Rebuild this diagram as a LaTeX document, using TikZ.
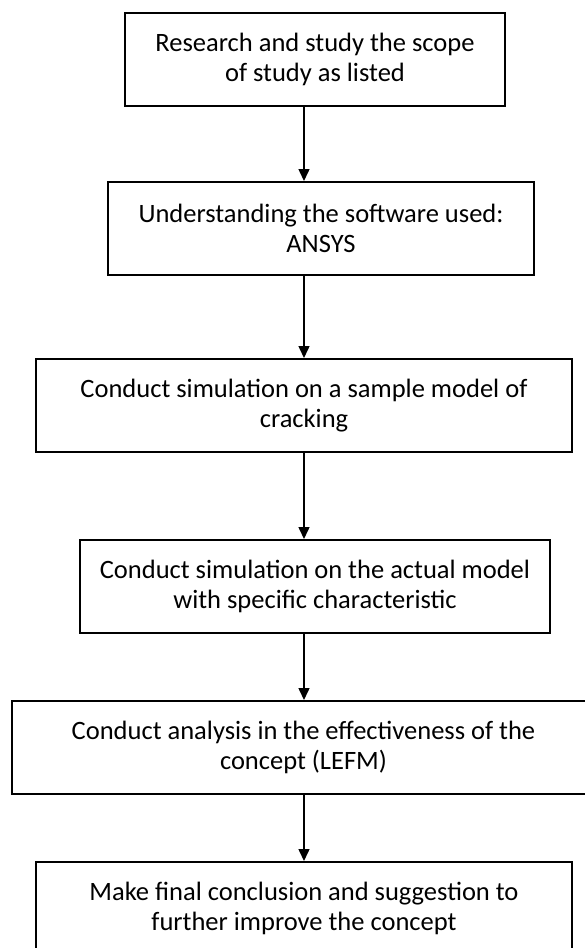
\documentclass[tikz,border=0pt]{standalone}
\usepackage{fontspec}
\setmainfont{Carlito}
\usetikzlibrary{
    arrows.meta
}
\tikzset{
    stage/.style={draw, rectangle, line width=2pt, inner sep=0pt, align=center,
        minimum height=93pt, font=\fontsize{26.5}{30}\selectfont},
    flow/.style={line width=1.5pt, -{Triangle[length=12pt, width=11pt]}}
}
\begin{document}
\begin{tikzpicture}[x=1pt, y=-1pt]
    \useasboundingbox (0, 0) rectangle (585, 948);
    \clip (0, 0) rectangle (585, 948);
    \coordinate (ax) at (304, 0);

    \node[stage, minimum width=380pt] (b1) at (315, 59.5) {Research and study the scope\\of study as listed};
    \node[stage, minimum width=426pt] (b2) at (321, 228.5) {Understanding the software used:\\ANSYS};
    \node[stage, minimum width=536pt] (b3) at (304, 405.5) {Conduct simulation on a sample model of\\cracking};
    \node[stage, minimum width=470pt] (b4) at (315, 586.5) {Conduct simulation on the actual model\\with specific characteristic};
    \node[stage, minimum width=583pt] (b5) at (303.5, 747.5) {Conduct analysis in the effectiveness of the\\concept (LEFM)};
    \node[stage, minimum width=536pt, minimum height=100pt] (b6) at (304, 912) {Make final conclusion and suggestion to\\further improve the concept\\[-18pt]};

    \foreach \a/\b in {b1/b2, b2/b3, b3/b4, b4/b5, b5/b6} {
        \draw[flow] (\a.south -| ax) -- (\b.north -| ax);
    };
\end{tikzpicture}
\end{document}
